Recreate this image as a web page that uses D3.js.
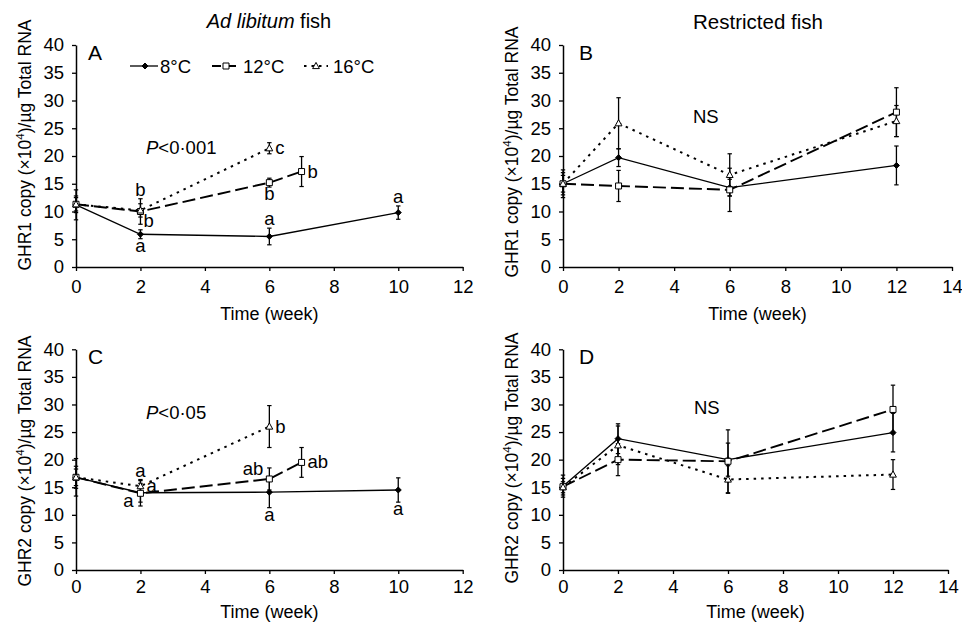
<!DOCTYPE html>
<html><head><meta charset="utf-8">
<script src="https://cdn.jsdelivr.net/npm/d3@7"></script>
<style>
body{margin:0;background:#fff}
svg{display:block}
text{font-family:Arial,"Liberation Sans",sans-serif;fill:#000}
</style>
</head><body>
<svg id="chart" width="962" height="624"></svg>
<script>
// ---------- data ----------
const seriesNames = ["8°C", "12°C", "16°C"];
const yTicks = [0, 5, 10, 15, 20, 25, 30, 35, 40];
const xTicksAdlib = [0, 2, 4, 6, 8, 10, 12];
const xTicksRestricted = [0, 2, 4, 6, 8, 10, 12, 14];

const weeksAdlib8 = [0, 2, 6, 10];
const weeksAdlib12 = [0, 2, 6, 7];
const weeksAdlib16 = [0, 2, 6];
const weeksRestricted = [0, 2, 6, 12];

// GHR1, ad libitum (A)
const ghr1Adlib8 = [11.2, 5.9, 5.5, 9.8];
const ghr1Adlib8Err = [2.7, 0.8, 1.5, 1.2];
const ghr1Adlib12 = [11.3, 10.0, 15.2, 17.2];
const ghr1Adlib12Err = [1.5, 2.3, 0.8, 2.7];
const ghr1Adlib16 = [11.3, 10.2, 21.4];
const ghr1Adlib16Err = [1.2, 1.2, 1.0];

// GHR1, restricted (B)
const ghr1Res8 = [15.0, 19.7, 14.3, 18.3];
const ghr1Res8Err = [2.5, 1.6, 1.5, 3.5];
const ghr1Res12 = [15.0, 14.6, 13.9, 27.9];
const ghr1Res12Err = [2.0, 2.8, 3.9, 4.4];
const ghr1Res16 = [15.0, 25.9, 16.6, 26.3];
const ghr1Res16Err = [1.5, 4.6, 3.8, 2.8];

// GHR2, ad libitum (C)
const ghr2Adlib8 = [16.8, 14.0, 14.1, 14.5];
const ghr2Adlib8Err = [3.4, 1.7, 2.8, 2.2];
const ghr2Adlib12 = [16.8, 13.9, 16.5, 19.5];
const ghr2Adlib12Err = [2.0, 2.3, 2.0, 2.7];
const ghr2Adlib16 = [16.8, 15.2, 26.0];
const ghr2Adlib16Err = [1.5, 1.2, 3.8];

// GHR2, restricted (D)
const ghr2Res8 = [15.2, 23.8, 20.0, 24.9];
const ghr2Res8Err = [2.0, 2.7, 3.0, 3.5];
const ghr2Res12 = [15.1, 20.0, 19.7, 29.1];
const ghr2Res12Err = [1.5, 2.9, 5.7, 4.4];
const ghr2Res16 = [15.0, 22.6, 16.4, 17.3];
const ghr2Res16Err = [1.0, 3.5, 2.5, 2.7];

// significance letters: [series index, point index, label, placement]
const lettersA = [[1,1,"b","above"],[1,1,"b","lowright"],[0,1,"a","below"],[0,2,"a","above"],
                  [1,2,"b","below"],[2,2,"c","right"],[1,3,"b","right"],[0,3,"a","above"]];
const lettersC = [[2,1,"a","above"],[2,1,"a","right"],[1,1,"a","lowleft"],[1,2,"ab","upleft"],
                  [0,2,"a","below"],[2,2,"b","right"],[1,3,"ab","right"],[0,3,"a","below"]];

// ---------- layout ----------
const svg = d3.select("#chart");
const panels = [
  {id:"A", x0:76, x1:462.7, y0:267, y1:45, xmax:12, xt:xTicksAdlib, gene:"GHR1", labY:145, labX:31, xpad:9, tY:53,
   series:[[weeksAdlib8,ghr1Adlib8,ghr1Adlib8Err],[weeksAdlib12,ghr1Adlib12,ghr1Adlib12Err],[weeksAdlib16,ghr1Adlib16,ghr1Adlib16Err]],
   letters:lettersA, stat:"P<0·001", statX:146, statY:154, legend:true, lx:12},
  {id:"B", x0:563, x1:952, y0:267, y1:45, xmax:14, xt:xTicksRestricted, gene:"GHR1", labY:152, labX:518, xpad:9, tY:53,
   series:[[weeksRestricted,ghr1Res8,ghr1Res8Err],[weeksRestricted,ghr1Res12,ghr1Res12Err],[weeksRestricted,ghr1Res16,ghr1Res16Err]],
   letters:[], stat:"NS", statX:693, statY:123, lx:16},
  {id:"C", x0:76, x1:462.7, y0:570, y1:349.3, xmax:12, xt:xTicksAdlib, gene:"GHR2", labY:461, labX:31, xpad:6, tY:48,
   series:[[weeksAdlib8,ghr2Adlib8,ghr2Adlib8Err],[weeksAdlib12,ghr2Adlib12,ghr2Adlib12Err],[weeksAdlib16,ghr2Adlib16,ghr2Adlib16Err]],
   letters:lettersC, stat:"P<0·05", statX:146, statY:419, lx:12},
  {id:"D", x0:563, x1:948, y0:570, y1:349.3, xmax:14, xt:xTicksRestricted, gene:"GHR2", labY:458, labX:518, xpad:6, tY:48,
   series:[[weeksRestricted,ghr2Res8,ghr2Res8Err],[weeksRestricted,ghr2Res12,ghr2Res12Err],[weeksRestricted,ghr2Res16,ghr2Res16Err]],
   letters:[], stat:"NS", statX:694, statY:414, lx:16}
];

const styles = [
  {dash:null, width:1.3},
  {dash:"13,5", width:1.9},
  {dash:"2.5,5", width:2}
];
const markerPath = [
  "M0,-3L3,0L0,3L-3,0Z",
  "M-3,-3L3,-3L3,3L-3,3Z",
  "M0,-3.6L3.4,2.6L-3.4,2.6Z"
];
const markerFill = ["#000", "#fff", "#fff"];

const FS = 18.5;   // tick labels, letters, legend
const LS = 17.5;   // axis titles

// titles
svg.append("text").attr("x", 269).attr("y", 28).attr("text-anchor", "middle").attr("font-size", 20)
  .call(t => { t.append("tspan").attr("font-style", "italic").text("Ad libitum"); t.append("tspan").text(" fish"); });
svg.append("text").attr("x", 758).attr("y", 29).attr("text-anchor", "middle").attr("font-size", 20.5).text("Restricted fish");

panels.forEach(p => {
  const x = d3.scaleLinear().domain([0, p.xmax]).range([p.x0, p.x1]);
  const y = d3.scaleLinear().domain([0, 40]).range([p.y0, p.y1]);
  const g = svg.append("g");

  // axes
  const ax = g.append("g").attr("transform", `translate(0,${p.y0})`)
    .call(d3.axisBottom(x).tickValues(p.xt).tickSize(4).tickSizeOuter(0).tickPadding(p.xpad));
  const ay = g.append("g").attr("transform", `translate(${p.x0},0)`)
    .call(d3.axisLeft(y).tickValues(yTicks).tickSize(4).tickSizeOuter(0).tickPadding(8));
  [ax, ay].forEach(a => {
    a.select(".domain").attr("stroke", "#000").attr("stroke-width", 1.5);
    a.selectAll(".tick line").attr("stroke", "#000").attr("stroke-width", 1.3);
    a.selectAll(".tick text").attr("font-size", FS).attr("font-family", "Arial, 'Liberation Sans', sans-serif").attr("fill", "#000");
  });

  // axis labels
  g.append("text").attr("x", (p.x0 + p.x1) / 2).attr("y", p.y0 + p.tY).attr("text-anchor", "middle")
    .attr("font-size", 18).text("Time (week)");
  const yl = g.append("text").attr("transform", `translate(${p.labX},${p.labY}) rotate(-90)`)
    .attr("text-anchor", "middle").attr("font-size", LS);
  yl.append("tspan").text(p.gene + " copy (×10");
  yl.append("tspan").attr("font-size", 11.5).attr("dy", -7).text("4");
  yl.append("tspan").attr("dy", 7).text(")/µg Total RNA");

  // panel letter
  g.append("text").attr("x", p.x0 + p.lx).attr("y", p.y1 + 15).attr("font-size", 21).text(p.id);

  // lines
  p.series.forEach((s, i) => {
    const pts = s[0].map((w, k) => [w, s[1][k]]);
    g.append("path").datum(pts)
      .attr("fill", "none").attr("stroke", "#000")
      .attr("stroke-width", styles[i].width)
      .attr("stroke-dasharray", styles[i].dash)
      .attr("d", d3.line().x(d => x(d[0])).y(d => y(d[1])));
  });
  // error bars
  p.series.forEach((s, i) => {
    s[0].forEach((w, k) => {
      const v = s[1][k], e = s[2][k];
      const cx = x(w);
      g.append("line").attr("x1", cx).attr("x2", cx).attr("y1", y(v - e)).attr("y2", y(v + e))
        .attr("stroke", "#000").attr("stroke-width", 1.3);
      [v - e, v + e].forEach(c => g.append("line").attr("x1", cx - 2.2).attr("x2", cx + 2.2)
        .attr("y1", y(c)).attr("y2", y(c)).attr("stroke", "#000").attr("stroke-width", 1.2));
    });
  });
  // markers
  p.series.forEach((s, i) => {
    s[0].forEach((w, k) => {
      g.append("path").attr("d", markerPath[i]).attr("transform", `translate(${x(w)},${y(s[1][k])})`)
        .attr("fill", markerFill[i]).attr("stroke", "#000").attr("stroke-width", 1);
    });
  });

  // significance letters
  p.letters.forEach(([si, pi, lab, pl]) => {
    const s = p.series[si];
    const cx = x(s[0][pi]), v = s[1][pi], e = s[2][pi];
    let tx = cx, ty = y(v), anchor = "middle";
    if (pl === "above") { ty = y(v + e) - 3; }
    else if (pl === "below") { ty = y(v - e) + 13; }
    else if (pl === "right") { tx = cx + 6; ty = y(v) + 6; anchor = "start"; }
    else if (pl === "lowright") { tx = cx + 3; ty = y(v) + 15; anchor = "start"; }
    else if (pl === "lowleft") { tx = cx - 7; ty = y(v) + 14; anchor = "end"; }
    else if (pl === "upleft") { tx = cx - 6; ty = y(v) - 4; anchor = "end"; }
    g.append("text").attr("x", tx).attr("y", ty).attr("text-anchor", anchor).attr("font-size", FS).text(lab);
  });

  // statistics text
  const st = g.append("text").attr("x", p.statX).attr("y", p.statY).attr("font-size", FS);
  if (p.stat.startsWith("P")) {
    st.append("tspan").attr("font-style", "italic").text("P");
    st.append("tspan").text(p.stat.slice(1));
  } else st.text(p.stat);

  // legend
  if (p.legend) {
    const ly = 66;
    const items = [[130, 158, 145, 160], [212, 236, 226, 243], [304, 328, 316, 333]];
    items.forEach(([a, b, m, tx], i) => {
      g.append("line").attr("x1", a).attr("x2", b).attr("y1", ly).attr("y2", ly)
        .attr("stroke", "#000").attr("stroke-width", styles[i].width)
        .attr("stroke-dasharray", i === 1 ? "9,6" : styles[i].dash);
      g.append("path").attr("d", markerPath[i]).attr("transform", `translate(${m},${ly})`)
        .attr("fill", markerFill[i]).attr("stroke", "#000").attr("stroke-width", 1);
      g.append("text").attr("x", tx).attr("y", ly + 7).attr("font-size", FS).text(seriesNames[i]);
    });
  }
});
</script>
</body></html>
